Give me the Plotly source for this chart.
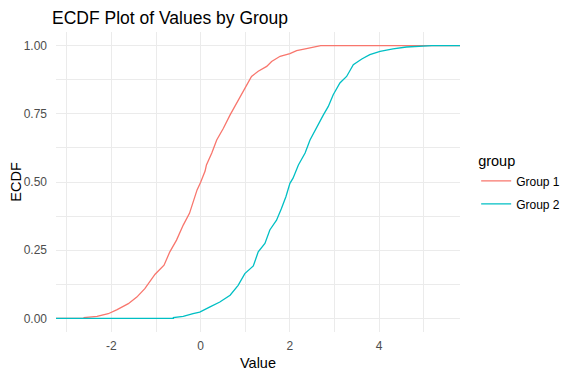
import plotly.graph_objects as go

# ECDF curve points (value, cumulative proportion)
group1_x = [-2.61, -2.32, -2.07, -1.87, -1.62, -1.43, -1.25, -1.02, -0.82, -0.69, -0.54, -0.39, -0.25,
            -0.17, -0.08, 0.0, 0.10, 0.13, 0.25, 0.36, 0.51, 0.66, 0.84, 0.95, 1.03, 1.14, 1.29,
            1.48, 1.59, 1.78, 2.0, 2.15, 2.37, 2.56, 2.69]
group1_y = [0.003, 0.007, 0.017, 0.032, 0.054, 0.078, 0.109, 0.162, 0.195, 0.244, 0.287, 0.342, 0.385,
            0.428, 0.471, 0.499, 0.540, 0.5625, 0.606, 0.654, 0.697, 0.746, 0.801, 0.832, 0.857, 0.887, 0.906,
            0.924, 0.942, 0.961, 0.971, 0.982, 0.989, 0.995, 1.0]

group2_x = [-0.61, -0.39, -0.17, -0.02, 0.21, 0.43, 0.66, 0.84, 0.99, 1.18, 1.29, 1.44, 1.55, 1.70,
            1.81, 1.91, 2.0, 2.07, 2.19, 2.34, 2.45, 2.60, 2.75, 2.86, 2.97, 3.12, 3.27, 3.42, 3.61,
            3.79, 4.02, 4.31, 4.61, 5.18]
group2_y = [0.003, 0.007, 0.017, 0.023, 0.042, 0.060, 0.085, 0.121, 0.164, 0.192, 0.244, 0.275, 0.324, 0.360,
            0.403, 0.446, 0.495, 0.514, 0.5625, 0.606, 0.654, 0.703, 0.746, 0.777, 0.820, 0.863, 0.887, 0.930, 0.951,
            0.967, 0.979, 0.988, 0.995, 1.0]

group_names = ["Group 1", "Group 2"]
colors = ["#F8766D", "#00BFC4"]
x_range = [-3.24, 5.81]
y_range = [-0.05, 1.05]
x_ticks = [-2, 0, 2, 4]
x_ticktext = ["-2", "0", "2", "4"]
y_ticks = [0.0, 0.25, 0.5, 0.75, 1.0]
y_ticktext = ["0.00", "0.25", "0.50", "0.75", "1.00"]

# the page body has an 8px margin, so the figure is sized to fill the rest of the window
W, H = 563, 369

fig = go.Figure()
for name, xs, ys, col in zip(group_names, [group1_x, group2_x], [group1_y, group2_y], colors):
    # pad the ECDF to the panel edges (like stat_ecdf pad=TRUE)
    px = [x_range[0], xs[0]] + xs + [x_range[1]]
    py = [0.0, 0.0] + ys + [1.0]
    fig.add_trace(go.Scatter(x=px, y=py, mode="lines", name=name, legendgroup=name,
                             line=dict(color=col, width=1.3)))

fig.update_layout(
    width=W, height=H,
    paper_bgcolor="white", plot_bgcolor="white",
    margin=dict(l=48, r=111, t=24, b=45, autoexpand=False),
    font=dict(family="Liberation Sans, Arial, sans-serif", color="#4D4D4D", size=12),
    title=dict(text="ECDF Plot of Values by Group", x=44/W, xanchor="left", y=1-10/H, yanchor="middle",
               font=dict(size=17.5, color="black")),
    legend=dict(title=dict(text="group", font=dict(size=14.5, color="black")),
                x=1.04, xanchor="left", y=0.615, yanchor="top",
                font=dict(size=12, color="black"), tracegroupgap=4),
    xaxis=dict(range=x_range, tickvals=x_ticks, ticktext=x_ticktext, showgrid=True, gridcolor="#EBEBEB",
               gridwidth=1.1, zeroline=False, showline=False, ticks="", ticklabelstandoff=5, automargin=False,
               minor=dict(tickvals=[-3, -1, 1, 3, 5], showgrid=True, gridcolor="#EBEBEB", gridwidth=0.6),
               title=dict(text="Value", font=dict(size=14.5, color="black"), standoff=5),
               tickfont=dict(size=12, color="#4D4D4D")),
    yaxis=dict(range=y_range, tickvals=y_ticks, ticktext=y_ticktext, showgrid=True, gridcolor="#EBEBEB",
               gridwidth=1.1, zeroline=False, showline=False, ticks="", ticklabelstandoff=8, automargin=False,
               minor=dict(tickvals=[0.125, 0.375, 0.625, 0.875], showgrid=True, gridcolor="#EBEBEB", gridwidth=0.6),
               title=dict(text="ECDF", font=dict(size=14.5, color="black"), standoff=2),
               tickfont=dict(size=12, color="#4D4D4D")),
)

fig.write_html("out.html")
